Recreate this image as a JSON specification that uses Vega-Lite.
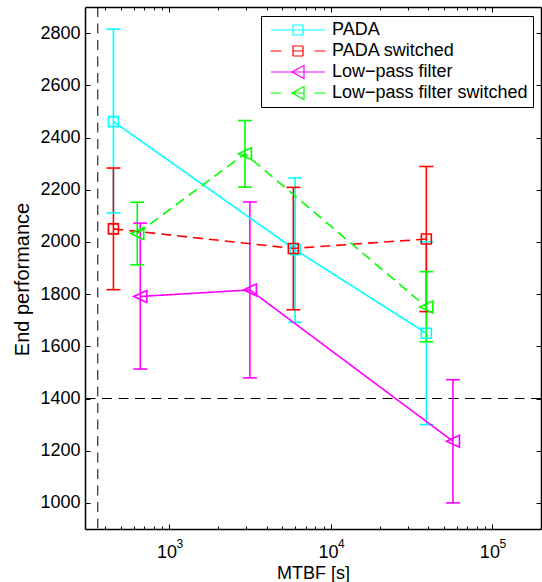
{
  "$schema": "https://vega.github.io/schema/vega-lite/v6.json",
  "width": 456,
  "height": 522,
  "autosize": {"type": "none"},
  "padding": {"left": 85, "top": 7, "right": 1, "bottom": 53},
  "background": "white",
  "config": {
    "view": {"stroke": null},
    "axis": {"grid": false, "labelFont": "Liberation Sans", "titleFont": "Liberation Sans", "domainColor": "black", "tickColor": "black", "labelColor": "black", "titleColor": "black", "titleFontWeight": "normal", "domainWidth": 1.5, "tickWidth": 1}
  },
  "data": {"values": [
    {"series": "PADA", "x": 450, "y": 2461, "lo": 2111, "hi": 2815},
    {"series": "PADA", "x": 6000, "y": 1970, "lo": 1692, "hi": 2245},
    {"series": "PADA", "x": 39000, "y": 1650, "lo": 1300, "hi": 2000},
    {"series": "PADA switched", "x": 450, "y": 2050, "lo": 1817, "hi": 2283},
    {"series": "PADA switched", "x": 5850, "y": 1975, "lo": 1740, "hi": 2209},
    {"series": "PADA switched", "x": 39000, "y": 2011, "lo": 1733, "hi": 2289},
    {"series": "Low\u2212pass filter", "x": 660, "y": 1791, "lo": 1513, "hi": 2072},
    {"series": "Low\u2212pass filter", "x": 3150, "y": 1816, "lo": 1479, "hi": 2153},
    {"series": "Low\u2212pass filter", "x": 57000, "y": 1236, "lo": 1000, "hi": 1472},
    {"series": "Low\u2212pass filter switched", "x": 632, "y": 2032, "lo": 1912, "hi": 2152},
    {"series": "Low\u2212pass filter switched", "x": 2936, "y": 2338, "lo": 2210, "hi": 2465},
    {"series": "Low\u2212pass filter switched", "x": 39000, "y": 1751, "lo": 1617, "hi": 1886}
  ]},
  "resolve": {"axis": {"x": "independent", "y": "independent"}},
  "layer": [
    {
      "mark": {"type": "point", "filled": false, "size": 100, "strokeWidth": 1.2, "opacity": 0},
      "encoding": {
        "x": {"field": "x", "type": "quantitative", "scale": {"type": "log", "domain": [300, 200000], "nice": false}, "axis": null},
        "y": {"field": "y", "type": "quantitative", "scale": {"domain": [900, 2900], "nice": false, "zero": false}, "axis": null},
        "color": {"field": "series", "type": "nominal",
          "scale": {"domain": ["PADA", "PADA switched", "Low\u2212pass filter", "Low\u2212pass filter switched"], "range": ["#00FFFF", "#FF0000", "#FF00FF", "#00FF00"]},
          "legend": {"title": null, "orient": "none", "legendX": 176, "legendY": 9, "strokeColor": "black", "fillColor": "white", "padding": 5, "rowPadding": 3, "symbolOffset": 23, "labelOffset": 25, "labelFont": "Liberation Sans", "labelFontSize": 18, "labelColor": "black", "labelLimit": 400, "labelExpr": "datum.label + '\u00a0'", "symbolOpacity": 1, "symbolStrokeWidth": 1.2, "symbolFillColor": "transparent", "symbolDash": [1, 0]}},
        "shape": {"field": "series", "type": "nominal",
          "scale": {"domain": ["PADA", "PADA switched", "Low\u2212pass filter", "Low\u2212pass filter switched"], "range": ["M-5.4,0H5.4M-1,-1H1V1H-1Z", "M-5.5,0H-3.3M-1,0H1M3.3,0H5.5M-1,-1H1V1H-1Z", "M-5.4,0H5.4M-1.2,0L1.2,-1.3V1.3Z", "M-5.5,0H-3.3M-1.2,0H1.2M3.3,0H5.5M-1.2,0L1.2,-1.3V1.3Z"]},
          "legend": {"title": null}}
      }
    },
    {
      "data": {"values": [{"v": 360}]},
      "mark": {"type": "rule", "color": "black", "strokeWidth": 1, "strokeDash": [10, 6.5]},
      "encoding": {
        "x": {"field": "v", "type": "quantitative", "scale": {"type": "log", "domain": [300, 200000], "nice": false}, "axis": null}
      }
    },
    {
      "data": {"values": [{"h": 1400}]},
      "mark": {"type": "rule", "color": "black", "strokeWidth": 1, "strokeDash": [10, 6.5]},
      "encoding": {
        "y": {"field": "h", "type": "quantitative", "scale": {"domain": [900, 2900], "nice": false, "zero": false}, "axis": null}
      }
    },
    {
      "mark": {"type": "rule", "strokeWidth": 1.6},
      "encoding": {
        "x": {"field": "x", "type": "quantitative", "scale": {"type": "log", "domain": [300, 200000], "nice": false},
          "axis": {"orient": "bottom", "values": [1000, 10000, 100000], "labelExpr": "'10'", "ticks": false, "domain": true, "labelFontSize": 18, "labelBaseline": "alphabetic", "labelAlign": "center", "labelPadding": 28, "labelOffset": -3, "labelFlush": false, "title": "MTBF [s]", "titleFontSize": 18, "titleBaseline": "alphabetic", "titleY": 49, "titlePadding": 0}},
        "y": {"field": "lo", "type": "quantitative", "scale": {"domain": [900, 2900], "nice": false, "zero": false},
          "axis": {"orient": "left", "values": [1000, 1200, 1400, 1600, 1800, 2000, 2200, 2400, 2600, 2800], "format": "d", "ticks": false, "domain": true, "labelFontSize": 18, "labelPadding": 5, "labelBaseline": "middle", "title": "End performance", "titleFontSize": 20, "titleAngle": -90, "titleAlign": "center", "titleBaseline": "alphabetic", "titleX": -56.7, "titleY": 272}},
        "y2": {"field": "hi"},
        "color": {"field": "series", "type": "nominal"}
      }
    },
    {
      "mark": {"type": "rule", "strokeWidth": 1.6, "xOffset": -7, "x2Offset": 7},
      "encoding": {
        "x": {"field": "x", "type": "quantitative", "scale": {"type": "log", "domain": [300, 200000], "nice": false},
          "axis": {"orient": "bottom", "values": [1000, 10000, 100000], "labelExpr": "datum.value == 1000 ? '3' : datum.value == 10000 ? '4' : '5'", "ticks": false, "domain": false, "labelFontSize": 12, "labelBaseline": "alphabetic", "labelAlign": "center", "labelPadding": 18, "labelOffset": 10, "labelFlush": false, "title": null}},
        "x2": {"field": "x"},
        "y": {"field": "lo", "type": "quantitative", "scale": {"domain": [900, 2900], "nice": false, "zero": false},
          "axis": {"orient": "left", "values": [1000, 1200, 1400, 1600, 1800, 2000, 2200, 2400, 2600, 2800], "labels": false, "domain": false, "ticks": true, "tickSize": -5, "title": null}},
        "color": {"field": "series", "type": "nominal"}
      }
    },
    {
      "mark": {"type": "rule", "strokeWidth": 1.6, "xOffset": -7, "x2Offset": 7},
      "encoding": {
        "x": {"field": "x", "type": "quantitative", "scale": {"type": "log", "domain": [300, 200000], "nice": false},
          "axis": {"orient": "bottom", "values": [400, 500, 600, 700, 800, 900, 1000, 2000, 3000, 4000, 5000, 6000, 7000, 8000, 9000, 10000, 20000, 30000, 40000, 50000, 60000, 70000, 80000, 90000, 100000], "labels": false, "domain": false, "ticks": true, "tickSize": {"condition": {"test": "datum.value == 1000 || datum.value == 10000 || datum.value == 100000", "value": -5}, "value": -3}, "title": null}},
        "x2": {"field": "x"},
        "y": {"field": "hi", "type": "quantitative", "scale": {"domain": [900, 2900], "nice": false, "zero": false},
          "axis": {"orient": "right", "values": [1000, 1200, 1400, 1600, 1800, 2000, 2200, 2400, 2600, 2800], "labels": false, "domain": true, "ticks": true, "tickSize": -5, "title": null}},
        "color": {"field": "series", "type": "nominal"}
      }
    },
    {
      "mark": {"type": "line", "strokeWidth": 1.6},
      "encoding": {
        "x": {"field": "x", "type": "quantitative", "scale": {"type": "log", "domain": [300, 200000], "nice": false},
          "axis": {"orient": "top", "values": [400, 500, 600, 700, 800, 900, 1000, 2000, 3000, 4000, 5000, 6000, 7000, 8000, 9000, 10000, 20000, 30000, 40000, 50000, 60000, 70000, 80000, 90000, 100000], "labels": false, "domain": true, "ticks": true, "tickSize": {"condition": {"test": "datum.value == 1000 || datum.value == 10000 || datum.value == 100000", "value": -5}, "value": -3}, "title": null}},
        "y": {"field": "y", "type": "quantitative", "scale": {"domain": [900, 2900], "nice": false, "zero": false}, "axis": null},
        "color": {"field": "series", "type": "nominal"},
        "strokeDash": {"field": "series", "type": "nominal", "scale": {"domain": ["PADA", "Low\u2212pass filter", "PADA switched", "Low\u2212pass filter switched"], "range": [[1, 0], [1, 0], [10, 6], [10, 6]]}, "legend": null}
      }
    },
    {
      "transform": [{"filter": "indexof(datum.series, 'PADA') === 0"}],
      "mark": {"type": "point", "shape": "M-1,-1H1V1H-1Z", "filled": false, "size": 100, "strokeWidth": 1.6, "opacity": 1},
      "encoding": {
        "x": {"field": "x", "type": "quantitative", "scale": {"type": "log", "domain": [300, 200000], "nice": false}, "axis": null},
        "y": {"field": "y", "type": "quantitative", "scale": {"domain": [900, 2900], "nice": false, "zero": false}, "axis": null},
        "color": {"field": "series", "type": "nominal"}
      }
    },
    {
      "transform": [{"filter": "indexof(datum.series, 'PADA') < 0"}],
      "mark": {"type": "point", "shape": "M-1.3,0L1.3,-1.2V1.2Z", "filled": false, "size": 100, "strokeWidth": 1.6, "opacity": 1},
      "encoding": {
        "x": {"field": "x", "type": "quantitative", "scale": {"type": "log", "domain": [300, 200000], "nice": false}, "axis": null},
        "y": {"field": "y", "type": "quantitative", "scale": {"domain": [900, 2900], "nice": false, "zero": false}, "axis": null},
        "color": {"field": "series", "type": "nominal"}
      }
    }
  ]
}
